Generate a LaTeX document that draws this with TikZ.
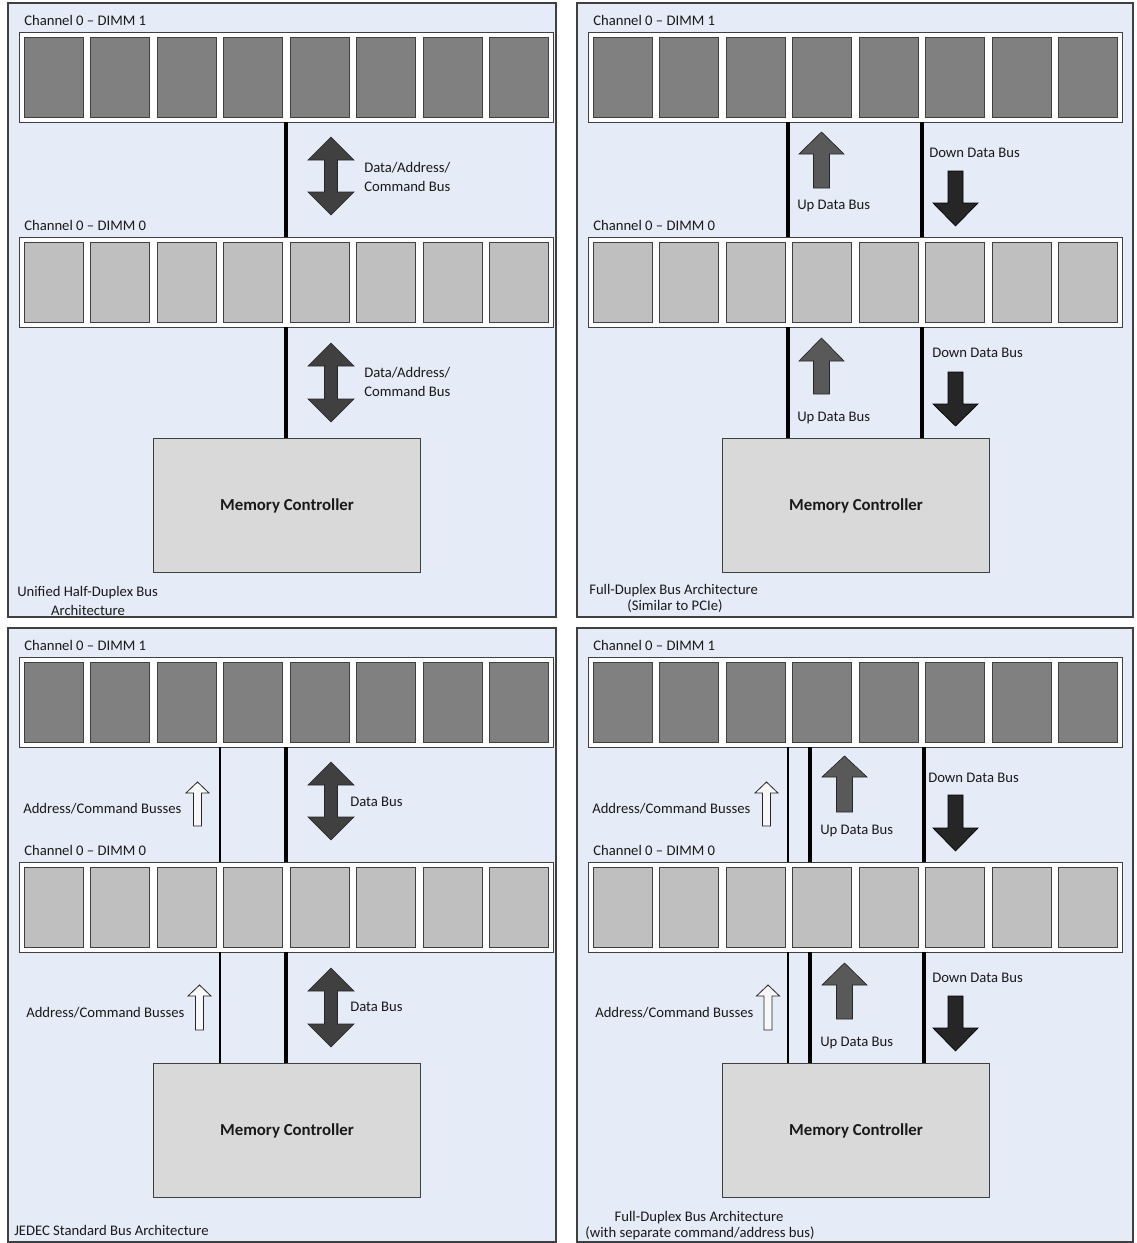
\documentclass[tikz,border=0pt]{standalone}
\usepackage{fontspec}
\setmainfont{Carlito}
\definecolor{bgblue}{RGB}{230,236,247}
\definecolor{chipdark}{RGB}{128,128,128}
\definecolor{chiplight}{RGB}{191,191,191}
\definecolor{mcgray}{RGB}{217,217,217}
\definecolor{arrdark}{RGB}{64,64,64}
\definecolor{arrmid}{RGB}{89,89,89}
\definecolor{arrblack}{RGB}{38,38,38}
\definecolor{arrwhite}{RGB}{248,248,248}
\definecolor{edge}{RGB}{64,64,64}
\tikzset{
  panel/.style={draw=edge, fill=bgblue, line width=0.8pt},
  dimmbox/.style={draw=edge, fill=white, line width=0.75pt},
  chipA/.style={draw=edge, fill=chipdark, line width=0.6pt},
  chipB/.style={draw=edge, fill=chiplight, line width=0.6pt},
  mcbox/.style={draw=edge, fill=mcgray, line width=0.75pt},
  thickbus/.style={line width=2.4pt, draw=black},
  thinbus/.style={line width=1pt, draw=black},
  dblarr/.style={draw=black!85, fill=arrdark, line width=0.5pt},
  uparr/.style={draw=black!85, fill=arrmid, line width=0.5pt},
  downarr/.style={draw=black, fill=arrblack, line width=0.5pt},
  hollowarr/.style={draw=black!85, fill=arrwhite, line width=0.6pt},
  lbl/.style={font=\fontsize{11}{13}\selectfont, text=black!90, inner sep=0pt, anchor=west},
  clbl/.style={font=\fontsize{11}{13}\selectfont, text=black!90, inner sep=0pt, anchor=center},
  mctext/.style={font=\fontsize{12.6}{15}\selectfont\bfseries, text=black!90, inner sep=0pt},
}
% DIMM row: #1 top y, #2 chip style
\newcommand\dimmrow[2]{%
  \draw[dimmbox] (19,#1) rectangle (553,{#1+90});
  \foreach \i in {0,...,7}{\draw[#2] ({24+66.5*\i},{#1+5}) rectangle ({83+66.5*\i},{#1+85});}
}
% double arrow: cx, top, bottom
\newcommand\dblarrow[3]{%
  \draw[dblarr] (#1,#2) -- ({#1+23},{#2+23}) -- ({#1+6.5},{#2+23}) -- ({#1+6.5},{#3-23})
    -- ({#1+23},{#3-23}) -- (#1,#3) -- ({#1-23},{#3-23}) -- ({#1-6.5},{#3-23})
    -- ({#1-6.5},{#2+23}) -- ({#1-23},{#2+23}) -- cycle;
}
% up arrow: style, cx, tip, base, bottom, head half, shaft half
\newcommand\myup[7]{%
  \draw[#1] (#2,#3) -- ({#2+#6},#4) -- ({#2+#7},#4) -- ({#2+#7},#5) -- ({#2-#7},#5)
    -- ({#2-#7},#4) -- ({#2-#6},#4) -- cycle;
}
% down arrow: cx, top, base, tip
\newcommand\mydown[4]{%
  \draw[downarr] (#1,#4) -- ({#1+22.5},#3) -- ({#1+7.5},#3) -- ({#1+7.5},#2) -- ({#1-7.5},#2)
    -- ({#1-7.5},#3) -- ({#1-22.5},#3) -- cycle;
}
% common panel contents
\newcommand\panelbase[2]{% #1 right edge, #2 prefix
  \draw[panel] (8,3) rectangle (#1,617);
  \node[lbl] (#2l1) at (24,20) {Channel 0 – DIMM 1};
  \dimmrow{32}{chipA}
  \node[lbl] (#2l0) at (24,225) {Channel 0 – DIMM 0};
  \dimmrow{237}{chipB}
  \node[mcbox, minimum width=200.25pt, minimum height=100.5pt, anchor=north west] (#2mc) at (153,438) {};
  \node[mctext] (#2mct) at (#2mc.center) {Memory Controller};
}
\begin{document}
\begin{tikzpicture}[x=0.75pt,y=-0.75pt]
\useasboundingbox[fill=white] (0,0) rectangle (1136,1243);

% ---------- Panel 1 ----------
\begin{scope}
  \panelbase{556}{a}
  \draw[thickbus] (286,122) -- (286,237);
  \draw[thickbus] (286,327) -- (286,438);
  \dblarrow{331}{137}{215}
  \dblarrow{331}{343}{422}
  \node[lbl] (a1) at (364,168) {Data/Address/};
  \node[lbl] (a2) at (364,186) {Command Bus};
  \node[lbl] (a3) at (364,373) {Data/Address/};
  \node[lbl] (a4) at (364,391) {Command Bus};
  \node[lbl] (acap1) at (17,593) {Unified Half-Duplex Bus};
  \node[clbl] (acap2) at (88,610) {Architecture};
\end{scope}

% ---------- Panel 2 ----------
\begin{scope}[shift={(569,0)}]
  \panelbase{564}{b}
  \draw[thickbus] (219,122) -- (219,237);
  \draw[thickbus] (353,122) -- (353,237);
  \draw[thickbus] (219,327) -- (219,438);
  \draw[thickbus] (353,327) -- (353,438);
  \myup{uparr}{252.5}{132}{154}{188}{22.5}{8}
  \myup{uparr}{252.5}{338}{361}{394}{22.5}{8}
  \mydown{386.5}{171}{203}{226}
  \mydown{386.5}{372}{404}{426}
  \node[lbl] (b1) at (228,206) {Up Data Bus};
  \node[lbl] (b2) at (228,418) {Up Data Bus};
  \node[lbl] (b3) at (360,153) {Down Data Bus};
  \node[lbl] (b4) at (363,353) {Down Data Bus};
  \node[lbl] (bcap1) at (20,591) {Full-Duplex Bus Architecture};
  \node[clbl] (bcap2) at (106,606) {(Similar to PCIe)};
\end{scope}

% ---------- Panel 3 ----------
\begin{scope}[shift={(0,625)}]
  \panelbase{556}{c}
  \draw[thinbus] (220,122) -- (220,237);
  \draw[thinbus] (220,327) -- (220,438);
  \draw[thickbus] (286,122) -- (286,237);
  \draw[thickbus] (286,327) -- (286,438);
  \myup{hollowarr}{197.5}{157}{168}{201}{11.5}{4}
  \myup{hollowarr}{199.5}{360}{371}{405}{11.5}{4}
  \node[lbl] (c1) at (23,184) {Address/Command Busses};
  \node[lbl] (c2) at (26,388) {Address/Command Busses};
  \dblarrow{331}{137}{215}
  \dblarrow{331}{343}{422}
  \node[lbl] (c3) at (350,177) {Data Bus};
  \node[lbl] (c4) at (350,382) {Data Bus};
  \node[lbl] (ccap) at (14,605) {JEDEC Standard Bus Architecture};
\end{scope}

% ---------- Panel 4 ----------
\begin{scope}[shift={(569,625)}]
  \panelbase{564}{d}
  \draw[thinbus] (219,122) -- (219,237);
  \draw[thinbus] (219,327) -- (219,438);
  \draw[thickbus] (241,122) -- (241,237);
  \draw[thickbus] (241,327) -- (241,438);
  \draw[thickbus] (355,122) -- (355,237);
  \draw[thickbus] (355,327) -- (355,438);
  \myup{hollowarr}{197.5}{157}{168}{201}{11.5}{4}
  \myup{hollowarr}{199}{360}{371}{405}{11.5}{4}
  \node[lbl] (d1) at (23,184) {Address/Command Busses};
  \node[lbl] (d2) at (26,388) {Address/Command Busses};
  \myup{uparr}{275.5}{131}{152}{187}{22.5}{8}
  \myup{uparr}{275.5}{338}{360}{394}{22.5}{8}
  \mydown{386.5}{170}{203}{226}
  \mydown{386.5}{371}{403}{426}
  \node[lbl] (d3) at (251,206) {Up Data Bus};
  \node[lbl] (d4) at (251,418) {Up Data Bus};
  \node[lbl] (d5) at (359,153) {Down Data Bus};
  \node[lbl] (d6) at (363,353) {Down Data Bus};
  \node[clbl] (dcap1) at (130,593) {Full-Duplex Bus Architecture};
  \node[clbl] (dcap2) at (131,608) {(with separate command/address bus)};
\end{scope}
\end{tikzpicture}
\end{document}
